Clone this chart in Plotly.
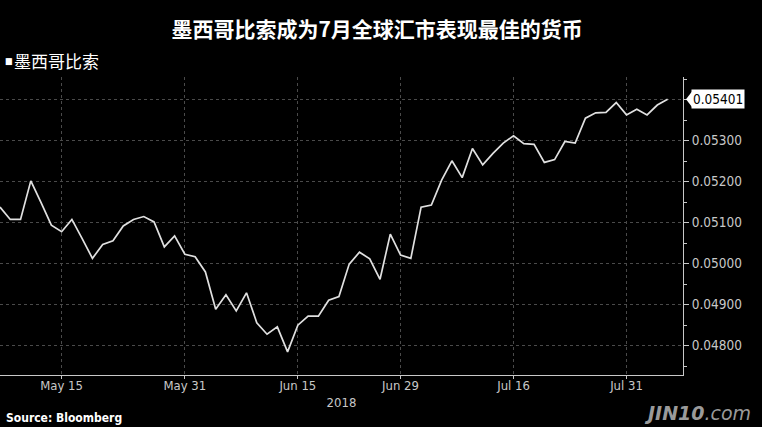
import pandas as pd
import plotly.graph_objects as go

# ---- data (business days, May 7 – Aug 6, 2018) ----
start_date = "2018-05-07"
end_date = "2018-08-06"
dates = [d.strftime("%Y-%m-%d") for d in pd.bdate_range(start_date, end_date)]

mxn_usd = [
    0.05138, 0.05108, 0.05108, 0.05202, 0.05149, 0.05094, 0.05078, 0.05108, 0.05061, 0.05013,
    0.05047, 0.05056, 0.05092, 0.05108, 0.05115, 0.05102, 0.05041, 0.05068, 0.05023, 0.05017,
    0.04980, 0.04889, 0.04924, 0.04885, 0.04929, 0.04856, 0.04828, 0.04846, 0.04785, 0.04850,
    0.04872, 0.04872, 0.04911, 0.04920, 0.04999, 0.05028, 0.05012, 0.04962, 0.05072, 0.05021,
    0.05013, 0.05138, 0.05143, 0.05204, 0.05251, 0.05210, 0.05281, 0.05241, 0.05269, 0.05294,
    0.05312, 0.05293, 0.05291, 0.05247, 0.05254, 0.05298, 0.05294, 0.05355, 0.05368, 0.05369,
    0.05393, 0.05363, 0.05377, 0.05363, 0.05387, 0.05401,
]

tick_dates = ["2018-05-15", "2018-05-31", "2018-06-15", "2018-06-29", "2018-07-16", "2018-07-31"]
tick_labels = ["May 15", "May 31", "Jun 15", "Jun 29", "Jul 16", "Jul 31"]

title_text = "墨西哥比索成为7月全球汇市表现最佳的货币"
series_name = "墨西哥比索"
year_label = "2018"
source_text = "Source: Bloomberg"

LATIN = "Liberation Sans Narrow, DejaVu Sans Condensed, Arial Narrow, Roboto, sans-serif"
CJK = "Noto Sans CJK SC, sans-serif"
AXIS_GREY = "#c8c8c8"

fig = go.Figure()
fig.add_trace(go.Scatter(
    x=dates, y=mxn_usd, mode="lines", name=series_name,
    line=dict(color="#e0e0e0", width=1.7), showlegend=False,
))

last_val = mxn_usd[-1]
n = len(dates)

fig.update_layout(
    width=762, height=427,
    paper_bgcolor="black", plot_bgcolor="black",
    margin=dict(l=0, r=79, t=77, b=52),
    font=dict(family=LATIN, color=AXIS_GREY, size=13),
    title=dict(
        text="<b>" + title_text + "</b>",
        font=dict(family=CJK, size=21, color="white"),
        x=0.495, xanchor="center", y=0.93, yanchor="middle",
    ),
    xaxis=dict(
        type="category",
        range=[0, n + 0.5],
        tickmode="array", tickvals=tick_dates, ticktext=tick_labels,
        showgrid=True, gridcolor="#4a4a4a", griddash="dot", gridwidth=1,
        showline=True, linecolor=AXIS_GREY, linewidth=1,
        ticks="outside", ticklen=3, tickcolor=AXIS_GREY,
        ticklabelstandoff=-5,
        tickfont=dict(family=LATIN, size=13, color=AXIS_GREY),
        title=dict(text=year_label, font=dict(family=LATIN, size=13, color=AXIS_GREY), standoff=6),
        zeroline=False,
    ),
    yaxis=dict(
        side="right",
        range=[0.047285, 0.054554],
        tick0=0.048, dtick=0.001, tickformat=".5f",
        showgrid=True, gridcolor="#4a4a4a", griddash="dot", gridwidth=1,
        showline=True, linecolor=AXIS_GREY, linewidth=1,
        ticks="outside", ticklen=5, tickcolor=AXIS_GREY,
        minor=dict(ticks="outside", ticklen=3, dtick=0.0005, tick0=0.0475, tickcolor=AXIS_GREY, showgrid=False),
        tickfont=dict(family=LATIN, size=13.5, color=AXIS_GREY),
        zeroline=False,
    ),
)

# legend-like label
fig.add_annotation(xref="paper", yref="paper", x=0.004, y=1.0, yshift=16,
                   xanchor="left", yanchor="middle", showarrow=False,
                   text="■", font=dict(size=9, color="white"))
fig.add_annotation(xref="paper", yref="paper", x=0.018, y=1.0, yshift=17,
                   xanchor="left", yanchor="middle", showarrow=False,
                   text=series_name, font=dict(family=CJK, size=17, color="white"))

# last value tag
fig.add_annotation(xref="paper", yref="y", x=1.0, xshift=8, y=last_val,
                   xanchor="left", yanchor="middle", showarrow=False,
                   text=f"{last_val:.5f}", bgcolor="white", borderpad=1,
                   font=dict(family=LATIN, size=13.5, color="black"))
px = 1.0 / 683
dv = 0.00019
fig.add_shape(type="path", xref="paper", yref="y",
              path=f"M {1 + 3*px},{last_val} L {1 + 9*px},{last_val + dv} L {1 + 9*px},{last_val - dv} Z",
              fillcolor="white", line=dict(width=0))

# source
fig.add_annotation(xref="paper", yref="paper", x=0.0, xshift=4, y=0, yshift=-43,
                   xanchor="left", yanchor="middle", showarrow=False,
                   text="<b>" + source_text + "</b>", font=dict(family=LATIN, size=12, color="white"))

# watermark
fig.add_annotation(xref="paper", yref="paper", x=1.0, xshift=70, y=0, yshift=-38,
                   xanchor="right", yanchor="middle", showarrow=False,
                   text="<i><b>JIN10</b>.com</i>", font=dict(family="DejaVu Sans, sans-serif", size=19, color="#9a9a9a"))

fig.write_html("out.html", config={"displayModeBar": False},
               post_script="document.body.style.margin='0';document.body.style.overflow='hidden';")
